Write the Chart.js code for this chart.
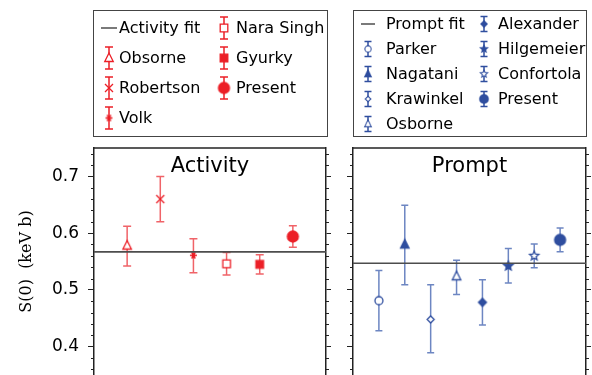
<!DOCTYPE html>
<html>
<head>
<meta charset="utf-8">
<script src="https://cdn.jsdelivr.net/npm/chart.js@4/dist/chart.umd.min.js"></script>
<style>
  html, body { margin: 0; padding: 0; background: #fff; overflow: hidden; }
  #wrap { position: relative; width: 592px; height: 375px; }
  .panel { position: absolute; top: 0; }
</style>
</head>
<body>
<div id="wrap">
  <div class="panel" style="left:0"><canvas id="activityChart" width="340" height="375"></canvas></div>
  <div class="panel" style="left:340px"><canvas id="promptChart" width="252" height="375"></canvas></div>
</div>
<script>
// S(0) values in keV b
const yTicks = [0.4, 0.5, 0.6, 0.7];

const activityNames = ["Obsorne", "Robertson", "Volk", "Nara Singh", "Gyurky", "Present"];
const activityS = [0.578, 0.660, 0.561, 0.546, 0.545, 0.594];
const activityLo = [0.542, 0.620, 0.530, 0.526, 0.528, 0.575];
const activityHi = [0.612, 0.700, 0.590, 0.566, 0.562, 0.613];
const activityFit = 0.567;

const promptNames = ["Parker", "Nagatani", "Krawinkel", "Osborne", "Alexander", "Hilgemeier", "Confortola", "Present"];
const promptS = [0.481, 0.580, 0.448, 0.524, 0.478, 0.542, 0.560, 0.588];
const promptLo = [0.428, 0.509, 0.389, 0.492, 0.438, 0.512, 0.539, 0.567];
const promptHi = [0.534, 0.649, 0.509, 0.552, 0.518, 0.573, 0.581, 0.609];
const promptFit = 0.547;

const RED = "#ec1f27", RED_BAR = "#f06368";
const BLUE = "#2f4e9f", BLUE_BAR = "#6d86c2";

// marker shape, radius, filled
const activityMarks = [["triangle", 5, false], ["x", 4, false], ["asterisk", 3.5, true],
    ["square", 3.8, false], ["square", 3.8, true], ["circle", 5.5, true]];
const promptMarks = [["circle", 4, false], ["triangle", 5, true], ["diamond", 3.5, false],
    ["triangle", 5, false], ["diamond", 4, true], ["star", 4.8, true], ["star", 4.8, false], ["circle", 5.5, true]];

function makeMarker(shape, r, color, filled) {
    const s = Math.ceil(r * 2 + 4);
    const c = document.createElement("canvas");
    c.width = s; c.height = s;
    const g = c.getContext("2d");
    const m = s / 2;
    g.strokeStyle = color;
    g.fillStyle = filled ? color : "#fff";
    g.lineWidth = 1.3;
    g.beginPath();
    if (shape === "circle") {
        g.arc(m, m, r, 0, Math.PI * 2);
    } else if (shape === "square") {
        g.rect(m - r, m - r, r * 2, r * 2);
    } else if (shape === "triangle") {
        g.moveTo(m, m - r);
        g.lineTo(m + r * 0.85, m + r * 0.7);
        g.lineTo(m - r * 0.85, m + r * 0.7);
        g.closePath();
    } else if (shape === "diamond") {
        g.moveTo(m, m - r); g.lineTo(m + r, m); g.lineTo(m, m + r); g.lineTo(m - r, m);
        g.closePath();
    } else if (shape === "star") {
        for (let k = 0; k < 10; k++) {
            const a = -Math.PI / 2 + k * Math.PI / 5;
            const rr = k % 2 === 0 ? r : r * 0.45;
            const px = m + rr * Math.cos(a), py = m + rr * Math.sin(a);
            if (k === 0) g.moveTo(px, py); else g.lineTo(px, py);
        }
        g.closePath();
    }
    if (shape === "x") {
        g.moveTo(m - r, m - r); g.lineTo(m + r, m + r);
        g.moveTo(m + r, m - r); g.lineTo(m - r, m + r);
        g.stroke();
    } else if (shape === "asterisk") {
        for (let k = 0; k < 3; k++) {
            const a = k * Math.PI / 3;
            g.moveTo(m - r * Math.cos(a), m - r * Math.sin(a));
            g.lineTo(m + r * Math.cos(a), m + r * Math.sin(a));
        }
        g.lineWidth = 1.6;
        g.stroke();
        g.beginPath();
        g.arc(m, m, r * 0.55, 0, Math.PI * 2);
        g.fill();
    } else {
        g.fill();
        g.stroke();
    }
    return c;
}

function buildDatasets(names, vals, lo, hi, marks, fit, fitLabel, xMax, color, barColor) {
    const sets = [{
        label: fitLabel,
        data: [{ x: 0, y: fit }, { x: xMax, y: fit }],
        showLine: true,
        borderColor: "#4d4d4d",
        borderWidth: 1.6,
        pointRadius: 0,
        isFit: true
    }];
    names.forEach((n, i) => {
        const mk = makeMarker(marks[i][0], marks[i][1], color, marks[i][2]);
        sets.push({
            label: n,
            data: [{ x: i + 1, y: vals[i] }],
            pointStyle: mk,
            marker: mk,
            errLo: lo[i],
            errHi: hi[i],
            barColor: barColor
        });
    });
    return sets;
}

const errorBars = {
    id: "errorBars",
    beforeDatasetsDraw(chart, args, opts) {
        const ctx = chart.ctx;
        const xs = chart.scales.x, ys = chart.scales.y;
        ctx.save();
        chart.data.datasets.forEach(ds => {
            if (ds.errHi === undefined) return;
            const x = xs.getPixelForValue(ds.data[0].x);
            const yT = ys.getPixelForValue(ds.errHi);
            const yB = ys.getPixelForValue(ds.errLo);
            ctx.strokeStyle = ds.barColor;
            ctx.lineWidth = 1.5;
            ctx.beginPath();
            ctx.moveTo(x, yT); ctx.lineTo(x, yB);
            ctx.moveTo(x - opts.cap, yT); ctx.lineTo(x + opts.cap, yT);
            ctx.moveTo(x - opts.cap, yB); ctx.lineTo(x + opts.cap, yB);
            ctx.stroke();
        });
        ctx.restore();
    }
};

const frame = {
    id: "frame",
    afterDraw(chart, args, opts) {
        const ctx = chart.ctx;
        const { left, right, top } = chart.chartArea;
        const ys = chart.scales.y;
        ctx.save();
        ctx.strokeStyle = "#222";
        ctx.lineWidth = 1.5;
        ctx.beginPath();
        ctx.moveTo(left, top); ctx.lineTo(right, top);
        ctx.stroke();
        // minor ticks every 0.02
        ctx.lineWidth = 1;
        ctx.beginPath();
        for (let k = 18; k <= 37; k++) {
            if (k % 5 === 0) continue;
            const y = Math.round(ys.getPixelForValue(k * 0.02)) + 0.5;
            ctx.moveTo(left - 3, y); ctx.lineTo(left, y);
            ctx.moveTo(right, y); ctx.lineTo(right + 3, y);
        }
        ctx.stroke();
        // panel title
        ctx.fillStyle = "#000";
        ctx.font = "21px 'DejaVu Sans'";
        ctx.textAlign = "center";
        ctx.textBaseline = "middle";
        ctx.fillText(opts.title, (left + right) / 2, top + 19);
        // legend box
        const L = opts.legend;
        ctx.strokeStyle = "#444";
        ctx.lineWidth = 1;
        ctx.strokeRect(L.box[0] + 0.5, L.box[1] + 0.5, L.box[2], L.box[3]);
        ctx.font = "16px 'DejaVu Sans'";
        ctx.textAlign = "left";
        chart.data.datasets.forEach((ds, i) => {
            const col = Math.floor(i / L.rows), row = i % L.rows;
            const sx = L.symX[col], tx = L.textX[col];
            const y = L.rowY + row * L.rowH;
            if (ds.isFit) {
                ctx.strokeStyle = "#222";
                ctx.lineWidth = 1.2;
                ctx.beginPath();
                ctx.moveTo(sx - L.lineHalf, y); ctx.lineTo(sx + L.lineHalf, y);
                ctx.stroke();
            } else {
                ctx.strokeStyle = ds.barColor === RED_BAR ? RED : BLUE;
                ctx.lineWidth = 1.5;
                ctx.beginPath();
                ctx.moveTo(sx, y - L.barHalf); ctx.lineTo(sx, y + L.barHalf);
                ctx.moveTo(sx - L.cap, y - L.barHalf); ctx.lineTo(sx + L.cap, y - L.barHalf);
                ctx.moveTo(sx - L.cap, y + L.barHalf); ctx.lineTo(sx + L.cap, y + L.barHalf);
                ctx.stroke();
                const w = ds.marker.width * L.mScale, h = ds.marker.height * L.mScale;
                ctx.drawImage(ds.marker, sx - w / 2, y - h / 2, w, h);
            }
            ctx.fillStyle = "#000";
            ctx.fillText(ds.label, tx, y + 1);
        });
        ctx.restore();
    }
};

// no extra room for end labels: the plot runs to the bottom edge
function fitWidth(width) {
    return s => {
        s.width = width;
        s.paddingTop = 0;
        s.paddingBottom = 0;
    };
}

function yAxis(showLabels, width) {
    return {
        min: 0.35,
        max: 0.75,
        position: "left",
        afterBuildTicks: s => { s.ticks = yTicks.map(v => ({ value: v })); },
        afterFit: fitWidth(width),
        ticks: {
            display: showLabels,
            font: { family: "DejaVu Sans", size: 17 },
            color: "#000",
            padding: 9,
            callback: v => v.toFixed(1)
        },
        grid: { drawOnChartArea: false, tickLength: 6, color: "#222", lineWidth: 1 },
        border: { color: "#222", width: 1.5 },
        title: {
            display: showLabels,
            text: "S(0)  (keV b)",
            font: { family: "DejaVu Serif", size: 16 },
            color: "#000",
            padding: { top: 17, bottom: 0 }
        }
    };
}

function yRight(width) {
    return {
        min: 0.35,
        max: 0.75,
        position: "right",
        afterBuildTicks: s => { s.ticks = yTicks.map(v => ({ value: v })); },
        afterFit: fitWidth(width),
        ticks: { display: false },
        grid: { drawOnChartArea: false, tickLength: 5, color: "#222", lineWidth: 1 },
        border: { color: "#222", width: 1.5 }
    };
}

function makeChart(id, datasets, xMax, leftW, rightW, showLabels, title, legend, cap) {
    return new Chart(document.getElementById(id), {
        type: "scatter",
        data: { datasets: datasets },
        options: {
            responsive: false,
            animation: false,
            devicePixelRatio: 1,
            layout: { autoPadding: false, padding: { top: 148, bottom: 0, left: 0, right: 0 } },
            plugins: {
                legend: { display: false },
                tooltip: { enabled: false },
                errorBars: { cap: cap },
                frame: { title: title, legend: legend }
            },
            scales: {
                x: { type: "linear", min: 0, max: xMax, display: false },
                y: yAxis(showLabels, leftW),
                y2: yRight(rightW)
            }
        },
        plugins: [errorBars, frame]
    });
}

makeChart("activityChart",
    buildDatasets(activityNames, activityS, activityLo, activityHi, activityMarks, activityFit, "Activity fit", 7, RED, RED_BAR),
    7, 94, 14, true, "Activity",
    { box: [93, 10, 234, 126], rows: 4, rowY: 28, rowH: 30, symX: [109, 224], textX: [119, 236], lineHalf: 8, barHalf: 11, cap: 4, mScale: 1 },
    4);

makeChart("promptChart",
    buildDatasets(promptNames, promptS, promptLo, promptHi, promptMarks, promptFit, "Prompt fit", 9, BLUE, BLUE_BAR),
    9, 13, 6, false, "Prompt",
    { box: [13, 10, 233, 126], rows: 5, rowY: 24, rowH: 25, symX: [28, 144], textX: [46, 158], lineHalf: 7, barHalf: 7.5, cap: 3.5, mScale: 0.8 },
    3.5);
</script>
</body>
</html>
